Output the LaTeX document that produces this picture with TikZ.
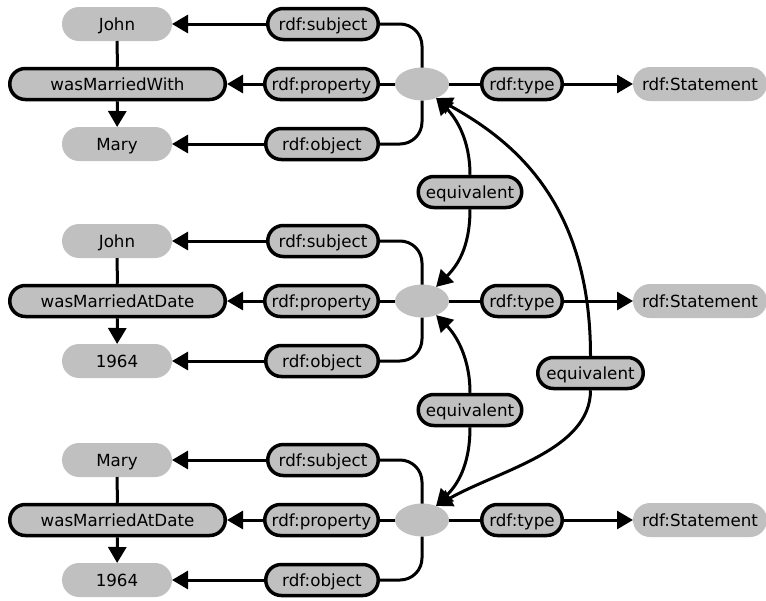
\documentclass[tikz,border=0pt]{standalone}
\usepackage{fontspec}
\setmainfont{DejaVu Sans}
\usetikzlibrary{arrows.meta,shapes.geometric}
\definecolor{nodegray}{RGB}{192,192,192}
\begin{document}
\begin{tikzpicture}[x=1pt,y=1pt,
  every node/.style={font=\fontsize{16.7}{20}\selectfont, inner sep=0pt, text height=12pt, text depth=0pt},
  value/.style={fill=nodegray, rounded corners=17pt, minimum height=34pt, minimum width=110pt, outer sep=0pt},
  pred/.style={fill=nodegray, draw=black, line width=3.5pt, rounded corners=15.5pt, minimum height=31pt},
  blank/.style={ellipse, fill=nodegray, minimum width=54pt, minimum height=33pt, outer sep=0pt},
  link/.style={line width=3pt},
  arr/.style={line width=3pt, -{Triangle[length=16pt,width=18pt]}},
  elbow/.style={line width=3pt, rounded corners=22pt},
]
\useasboundingbox (0,0) rectangle (766,-600);

% ---- statement 1: John wasMarriedWith Mary
\node[value] (john1) at (117,-24) {John};
\node[pred, minimum width=215.5pt] (wmw1) at (117.5,-84) {wasMarriedWith};
\node[value] (mary1) at (117,-144) {Mary};
\node[pred, minimum width=110.5pt] (subj1) at (323,-24) {rdf:subject};
\node[pred, minimum width=113.5pt] (prop1) at (321.5,-84) {rdf:property};
\node[pred, minimum width=112.5pt] (obj1) at (322,-144) {rdf:object};
\node[blank] (b1) at (422,-84) {};
\node[pred, minimum width=80.5pt] (type1) at (522,-84) {rdf:type};
\node[value, minimum width=134pt] (st1) at (700,-84) {rdf:Statement};

% ---- statement 2: John wasMarriedAtDate 1964
\node[value] (john2) at (117,-241) {John};
\node[pred, minimum width=215.5pt] (wmd2) at (117.5,-301) {wasMarriedAtDate};
\node[value] (date2) at (117,-361) {1964};
\node[pred, minimum width=110.5pt] (subj2) at (323,-241) {rdf:subject};
\node[pred, minimum width=113.5pt] (prop2) at (321.5,-301) {rdf:property};
\node[pred, minimum width=112.5pt] (obj2) at (322,-361) {rdf:object};
\node[blank] (b2) at (422,-301) {};
\node[pred, minimum width=80.5pt] (type2) at (522,-301) {rdf:type};
\node[value, minimum width=134pt] (st2) at (700,-301) {rdf:Statement};

% ---- statement 3: Mary wasMarriedAtDate 1964
\node[value] (mary3) at (117,-460) {Mary};
\node[pred, minimum width=215.5pt] (wmd3) at (117.5,-520) {wasMarriedAtDate};
\node[value] (date3) at (117,-580) {1964};
\node[pred, minimum width=110.5pt] (subj3) at (323,-460) {rdf:subject};
\node[pred, minimum width=113.5pt] (prop3) at (321.5,-520) {rdf:property};
\node[pred, minimum width=112.5pt] (obj3) at (322,-580) {rdf:object};
\node[blank] (b3) at (422,-520) {};
\node[pred, minimum width=80.5pt] (type3) at (522,-520) {rdf:type};
\node[value, minimum width=134pt] (st3) at (700,-520) {rdf:Statement};

% ---- equivalence labels
\node[pred, minimum width=103.5pt] (e1) at (470,-192) {equivalent};
\node[pred, minimum width=103.5pt] (e2) at (470,-410) {equivalent};
\node[pred, minimum width=105.5pt] (e3) at (590.5,-373) {equivalent};

% ---- reification edges
\draw[link] (john1) -- (wmw1);
\draw[arr] (wmw1) -- (mary1);
\draw[elbow] (b1.north) |- (subj1.east);
\draw[arr] (subj1) -- (john1);
\draw[link] (b1) -- (prop1);
\draw[arr] (prop1) -- (wmw1);
\draw[elbow] (b1.south) |- (obj1.east);
\draw[arr] (obj1) -- (mary1);
\draw[link] (b1) -- (type1);
\draw[arr] (type1) -- (st1);

\draw[link] (john2) -- (wmd2);
\draw[arr] (wmd2) -- (date2);
\draw[elbow] (b2.north) |- (subj2.east);
\draw[arr] (subj2) -- (john2);
\draw[link] (b2) -- (prop2);
\draw[arr] (prop2) -- (wmd2);
\draw[elbow] (b2.south) |- (obj2.east);
\draw[arr] (obj2) -- (date2);
\draw[link] (b2) -- (type2);
\draw[arr] (type2) -- (st2);

\draw[link] (mary3) -- (wmd3);
\draw[arr] (wmd3) -- (date3);
\draw[elbow] (b3.north) |- (subj3.east);
\draw[arr] (subj3) -- (mary3);
\draw[link] (b3) -- (prop3);
\draw[arr] (prop3) -- (wmd3);
\draw[elbow] (b3.south) |- (obj3.east);
\draw[arr] (obj3) -- (date3);
\draw[link] (b3) -- (type3);
\draw[arr] (type3) -- (st3);

% ---- equivalence edges
\draw[arr] (e1.north) .. controls +(0,35) and +(20,-20) .. (b1.-45);
\draw[arr] (e1.south) .. controls +(0,-40) and +(20,20) .. (b2.45);
\draw[arr] (e2.north) .. controls +(0,35) and +(20,-20) .. (b2.-45);
\draw[arr] (e2.south) .. controls +(0,-40) and +(20,20) .. (b3.45);
\draw[arr] (e3.north) .. controls +(0,156) and +(74,-41) .. (b1.-45);
\draw[arr] (e3.south) .. controls +(0,-60) and +(64,36) .. (b3.45);
\end{tikzpicture}
\end{document}
